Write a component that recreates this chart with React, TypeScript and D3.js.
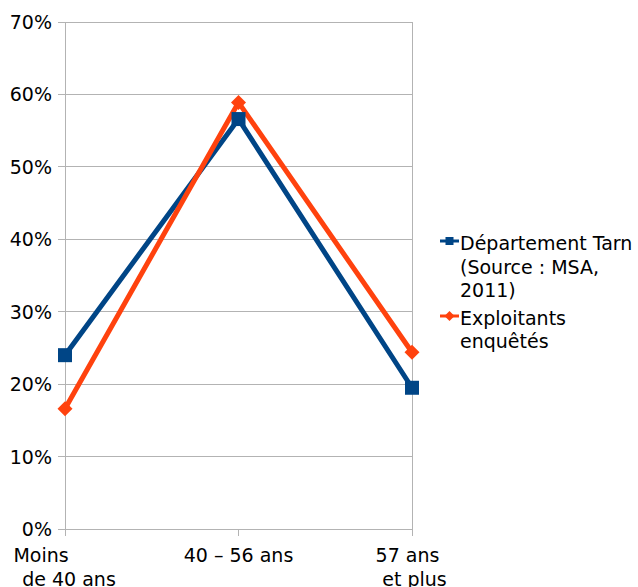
import React from "react";
import * as d3 from "d3";

const categories = ["Moins de 40 ans", "40 – 56 ans", "57 ans et plus"];
const categoryLines = [["Moins", "de 40 ans"], ["40 – 56 ans"], ["57 ans", "et plus"]];
const categoryLineDx = [[-24, 4], [0], [-4.5, 2.5]];
const tarnValues = [0.24, 0.566, 0.195];
const enqueteValues = [0.166, 0.589, 0.244];
const yTicks = [0, 0.1, 0.2, 0.3, 0.4, 0.5, 0.6, 0.7];
const legendTarn = ["Département Tarn", "(Source : MSA,", "2011)"];
const legendEnq = ["Exploitants", "enquêtés"];

const W = 638;
const H = 587;
const FONT = "DejaVu Sans, Verdana, sans-serif";
const FS = 19;
const BLUE = "#004586";
const ORANGE = "#ff420e";
const GRID = "#b3b3b3";

export default function App() {
  const x = d3.scalePoint<string>().domain(categories).range([65, 412]).padding(0);
  const y = d3.scaleLinear().domain([0, 0.7]).range([529, 22]);
  const line = d3
    .line<number>()
    .x((_, i) => x(categories[i]) as number)
    .y((d) => y(d));
  const fmt = d3.format(".0%");
  const diamond = (cx: number, cy: number, r = 7.5) =>
    `M${cx},${cy - r}L${cx + r},${cy}L${cx},${cy + r}L${cx - r},${cy}Z`;

  return (
    <svg
      width={W}
      height={H}
      style={{ position: "absolute", left: 0, top: 0, fontFamily: FONT }}
    >
      <rect width={W} height={H} fill="#fff" />
      {/* grid lines + y ticks */}
      {yTicks.map((t) => (
        <g key={t}>
          <line x1={58} x2={412} y1={y(t)} y2={y(t)} stroke={GRID} strokeWidth={1} shapeRendering="crispEdges" />
          <text x={52} y={y(t) + 7} textAnchor="end" fontSize={FS} fill="#000">
            {fmt(t)}
          </text>
        </g>
      ))}
      {/* y axis */}
      <line x1={65} x2={65} y1={y(0.7)} y2={y(0) + 7} stroke={GRID} shapeRendering="crispEdges" />
      {/* right border */}
      <line x1={412} x2={412} y1={y(0.7)} y2={y(0) + 7} stroke={GRID} shapeRendering="crispEdges" />
      {/* x ticks */}
      {categories.map((c) => (
        <line key={c} x1={x(c)} x2={x(c)} y1={y(0)} y2={y(0) + 7} stroke={GRID} shapeRendering="crispEdges" />
      ))}
      {/* x labels */}
      {categories.map((c, i) =>
        categoryLines[i].map((l, j) => (
          <text
            key={c + j}
            x={(x(c) as number) + categoryLineDx[i][j]}
            y={562 + j * 23.5}
            textAnchor="middle"
            fontSize={FS}
            fill="#000"
          >
            {l}
          </text>
        ))
      )}
      {/* series lines */}
      <path d={line(tarnValues) || ""} fill="none" stroke={BLUE} strokeWidth={5} strokeLinejoin="round" />
      <path d={line(enqueteValues) || ""} fill="none" stroke={ORANGE} strokeWidth={5} strokeLinejoin="round" />
      {tarnValues.map((v, i) => (
        <rect key={"b" + i} x={(x(categories[i]) as number) - 7} y={y(v) - 7} width={14} height={14} fill={BLUE} />
      ))}
      {enqueteValues.map((v, i) => (
        <path key={"o" + i} d={diamond(x(categories[i]) as number, y(v))} fill={ORANGE} />
      ))}
      {/* legend */}
      <line x1={440} x2={459} y1={241} y2={241} stroke={BLUE} strokeWidth={3} />
      <rect x={445.5} y={237} width={8} height={8} fill={BLUE} />
      {legendTarn.map((t, i) => (
        <text key={t} x={460} y={250 + i * 23.7} fontSize={FS} fill="#000">
          {t}
        </text>
      ))}
      <line x1={440} x2={459} y1={316} y2={316} stroke={ORANGE} strokeWidth={3} />
      <path d={diamond(449.5, 316, 5)} fill={ORANGE} />
      {legendEnq.map((t, i) => (
        <text key={t} x={460} y={324.5 + i * 23.3} fontSize={FS} fill="#000">
          {t}
        </text>
      ))}
    </svg>
  );
}
